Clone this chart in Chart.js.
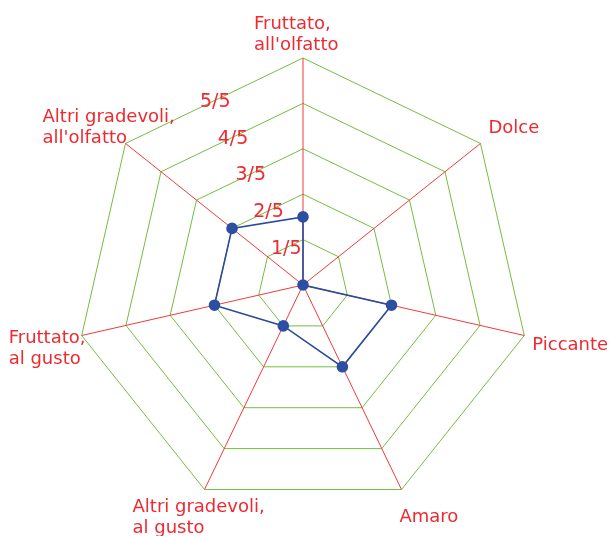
<!DOCTYPE html>
<html>
<head>
<meta charset="utf-8">
<script src="https://cdn.jsdelivr.net/npm/chart.js@4"></script>
<style>
html,body{margin:0;padding:0;background:#fff;}
#wrap{width:610px;height:536px;}
</style>
</head>
<body>
<div id="wrap"><canvas id="c" width="610" height="536"></canvas></div>
<script>
const categories = [
  ["Fruttato,", "all'olfatto"],
  ["Dolce"],
  ["Piccante"],
  ["Amaro"],
  ["Altri gradevoli,", "al gusto"],
  ["Fruttato,", "al gusto"],
  ["Altri gradevoli,", "all'olfatto"]
];
const values = [1.5, 0, 2, 2, 1, 2, 2];
const tickValues = [1, 2, 3, 4, 5];
const tickLabels = ["1/5", "2/5", "3/5", "4/5", "5/5"];

const RED = '#ee2a30';
const FONT = '18px "DejaVu Sans", Verdana, sans-serif';
const TICK_FONT = '19px "DejaVu Sans", Verdana, sans-serif';

// per-label text placement relative to its axis vertex: [dx of left edge, dy of first baseline]
const labelPlacement = [
  [-49, -29],
  [8, -10],
  [8, 14],
  [-2, 32],
  [-72, 22],
  [-73, 7],
  [-83, -21]
];
const LINE_H = 21;

const customLabels = {
  id: 'customLabels',
  afterDraw(chart) {
    const s = chart.scales.r;
    const ctx = chart.ctx;
    ctx.save();
    ctx.font = FONT;
    ctx.fillStyle = RED;
    ctx.textAlign = 'left';
    ctx.textBaseline = 'alphabetic';
    categories.forEach((lines, i) => {
      const p = s.getPointPosition(i, s.drawingArea);
      const [dx, dy] = labelPlacement[i];
      lines.forEach((t, k) => ctx.fillText(t, p.x + dx, p.y + dy + k * LINE_H));
    });
    // tick labels on the bisector of the first and last axes
    ctx.font = TICK_FONT;
    ctx.textAlign = 'center';
    ctx.textBaseline = 'middle';
    const n = categories.length;
    tickValues.forEach((v, k) => {
      const a = s.getPointPositionForValue(0, v);
      const b = s.getPointPositionForValue(n - 1, v);
      ctx.fillText(tickLabels[k], (a.x + b.x) / 2 + 1, (a.y + b.y) / 2 + 1);
    });
    ctx.restore();
  }
};

new Chart(document.getElementById('c'), {
  type: 'radar',
  data: {
    labels: categories,
    datasets: [{
      data: values,
      borderColor: '#2c4a9a',
      borderWidth: 1.6,
      backgroundColor: '#2c4fa3',
      pointBackgroundColor: '#2c4fa3',
      pointBorderColor: '#2c4fa3',
      pointRadius: 5,
      fill: false,
      tension: 0
    }]
  },
  options: {
    responsive: false,
    animation: false,
    devicePixelRatio: 1,
    layout: { padding: { left: 76, right: 80, top: 58, bottom: 24 } },
    plugins: { legend: { display: false }, tooltip: { enabled: false } },
    scales: {
      r: {
        min: 0,
        max: 5,
        beginAtZero: true,
        ticks: { display: false, stepSize: 1 },
        pointLabels: { display: false },
        grid: { color: '#74bd42', lineWidth: 1, circular: false },
        angleLines: { color: '#f03a3a', lineWidth: 1 }
      }
    }
  },
  plugins: [customLabels]
});
</script>
</body>
</html>
